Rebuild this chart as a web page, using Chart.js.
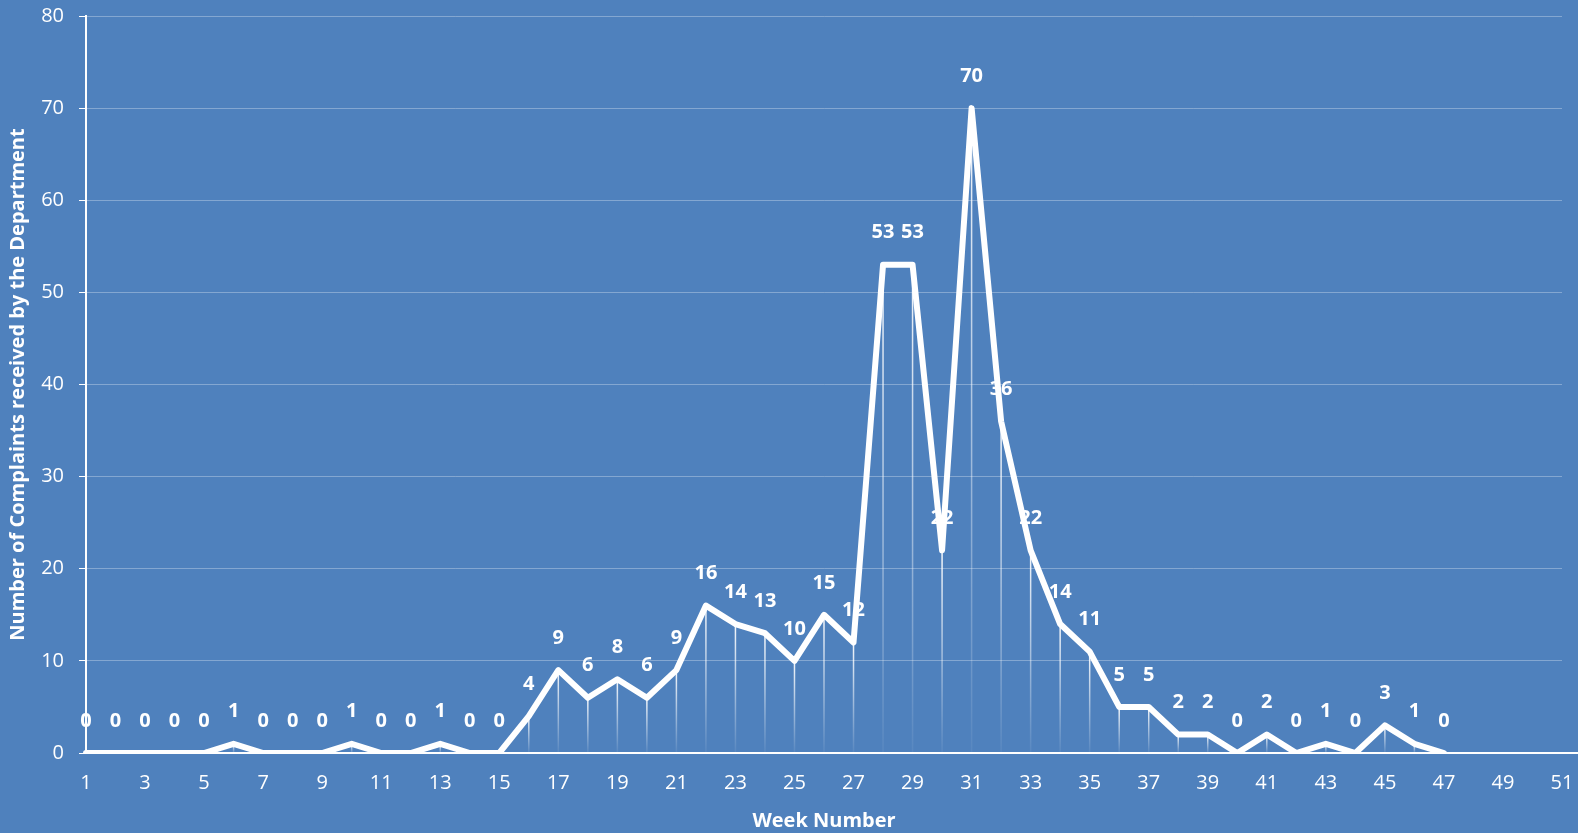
<!DOCTYPE html>
<html>
<head>
<meta charset="utf-8">
<script src="https://cdn.jsdelivr.net/npm/chart.js@4.4.1/dist/chart.umd.min.js"></script>
<style>
  html, body { margin: 0; padding: 0; background: #4f81bd; }
  #wrap { width: 1578px; height: 833px; position: relative; }
</style>
</head>
<body>
<div id="wrap"><canvas id="complaintsChart"></canvas></div>
<script>
const weeks = [
  "1", "2", "3", "4", "5", "6", "7", "8", "9", "10",
  "11", "12", "13", "14", "15", "16", "17", "18", "19", "20",
  "21", "22", "23", "24", "25", "26", "27", "28", "29", "30",
  "31", "32", "33", "34", "35", "36", "37", "38", "39", "40",
  "41", "42", "43", "44", "45", "46", "47", "48", "49", "50",
  "51",
];

const complaints = [
  0, 0, 0, 0, 0, 1, 0, 0, 0, 1,
  0, 0, 1, 0, 0, 4, 9, 6, 8, 6,
  9, 16, 14, 13, 10, 15, 12, 53, 53, 22,
  70, 36, 22, 14, 11, 5, 5, 2, 2, 0,
  2, 0, 1, 0, 3, 1, 0, null, null, null,
  null,
];

const yTicks = { min: 0, max: 80, step: 10 };

const FONT = "'Open Sans', 'Liberation Sans', sans-serif";

const background = {
  id: "background",
  beforeDraw(chart) {
    const ctx = chart.ctx;
    ctx.save();
    ctx.fillStyle = "#4f81bd";
    ctx.fillRect(0, 0, chart.width, chart.height);
    ctx.restore();
  },
  afterDraw(chart) {
    // the category axis line runs on to the right edge of the picture
    const ctx = chart.ctx;
    const y0 = chart.scales.y.getPixelForValue(0);
    ctx.save();
    ctx.strokeStyle = "#ffffff";
    ctx.lineWidth = 2;
    ctx.beginPath();
    ctx.moveTo(chart.chartArea.right, y0);
    ctx.lineTo(chart.width, y0);
    ctx.stroke();
    ctx.restore();
  },
};

// vertical drop lines from each point down to the axis, fading out
const dropLines = {
  id: "dropLines",
  beforeDatasetsDraw(chart) {
    const ctx = chart.ctx;
    const meta = chart.getDatasetMeta(0);
    const bottom = chart.scales.y.getPixelForValue(0);
    ctx.save();
    ctx.lineWidth = 1.5;
    meta.data.forEach((pt, i) => {
      if (complaints[i] === null || complaints[i] === 0) return;
      const grad = ctx.createLinearGradient(0, pt.y, 0, bottom);
      grad.addColorStop(0, "rgba(255,255,255,0.95)");
      grad.addColorStop(1, "rgba(255,255,255,0.05)");
      ctx.strokeStyle = grad;
      ctx.beginPath();
      ctx.moveTo(pt.x, pt.y);
      ctx.lineTo(pt.x, bottom);
      ctx.stroke();
    });
    ctx.restore();
  },
};

const valueLabels = {
  id: "valueLabels",
  afterDatasetsDraw(chart) {
    const ctx = chart.ctx;
    const meta = chart.getDatasetMeta(0);
    ctx.save();
    ctx.fillStyle = "#ffffff";
    ctx.font = "bold 20px " + FONT;
    ctx.textAlign = "center";
    ctx.textBaseline = "middle";
    meta.data.forEach((pt, i) => {
      if (complaints[i] === null) return;
      ctx.fillText(String(complaints[i]), pt.x, pt.y - 32);
    });
    ctx.restore();
  },
};

new Chart(document.getElementById("complaintsChart"), {
  type: "line",
  data: {
    labels: weeks,
    datasets: [
      {
        label: "Complaints",
        data: complaints,
        borderColor: "#ffffff",
        borderWidth: 6,
        borderJoinStyle: "round",
        borderCapStyle: "round",
        pointRadius: 0,
        tension: 0,
        fill: false,
      },
    ],
  },
  options: {
    responsive: true,
    maintainAspectRatio: false,
    animation: false,
    layout: { padding: { top: 16, right: 16, left: 0, bottom: 0 } },
    plugins: {
      legend: { display: false },
      tooltip: { enabled: false },
    },
    scales: {
      x: {
        offset: false,
        grid: { display: false },
        border: { color: "#ffffff", width: 2 },
        afterFit: (scale) => {
          scale.height = 80;
          scale.paddingLeft = 0;
          scale.paddingRight = 0;
        },
        ticks: {
          color: "#ffffff",
          autoSkip: false,
          maxRotation: 0,
          padding: 10,
          font: { family: FONT, size: 20 },
          callback: (val, i) => (i % 2 === 0 ? weeks[i] : ""),
        },
        title: {
          display: true,
          text: "Week Number",
          color: "#ffffff",
          font: { family: FONT, size: 20, weight: "bold" },
          padding: { top: 4, bottom: 0 },
        },
      },
      y: {
        min: yTicks.min,
        max: yTicks.max,
        afterFit: (scale) => {
          scale.width = 86;
          scale.paddingTop = 0;
        },
        grid: {
          color: "rgba(255,255,255,0.3)",
          tickColor: "#ffffff",
          tickLength: 7,
          lineWidth: 1,
        },
        border: { color: "#ffffff", width: 2 },
        ticks: {
          stepSize: yTicks.step,
          color: "#ffffff",
          padding: 15,
          font: { family: FONT, size: 20 },
        },
        title: {
          display: true,
          text: "Number of Complaints received by the Department",
          color: "#ffffff",
          font: { family: FONT, size: 20, weight: "bold" },
          padding: { top: 6, bottom: 0 },
        },
      },
    },
  },
  plugins: [background, dropLines, valueLabels],
});
</script>
</body>
</html>
